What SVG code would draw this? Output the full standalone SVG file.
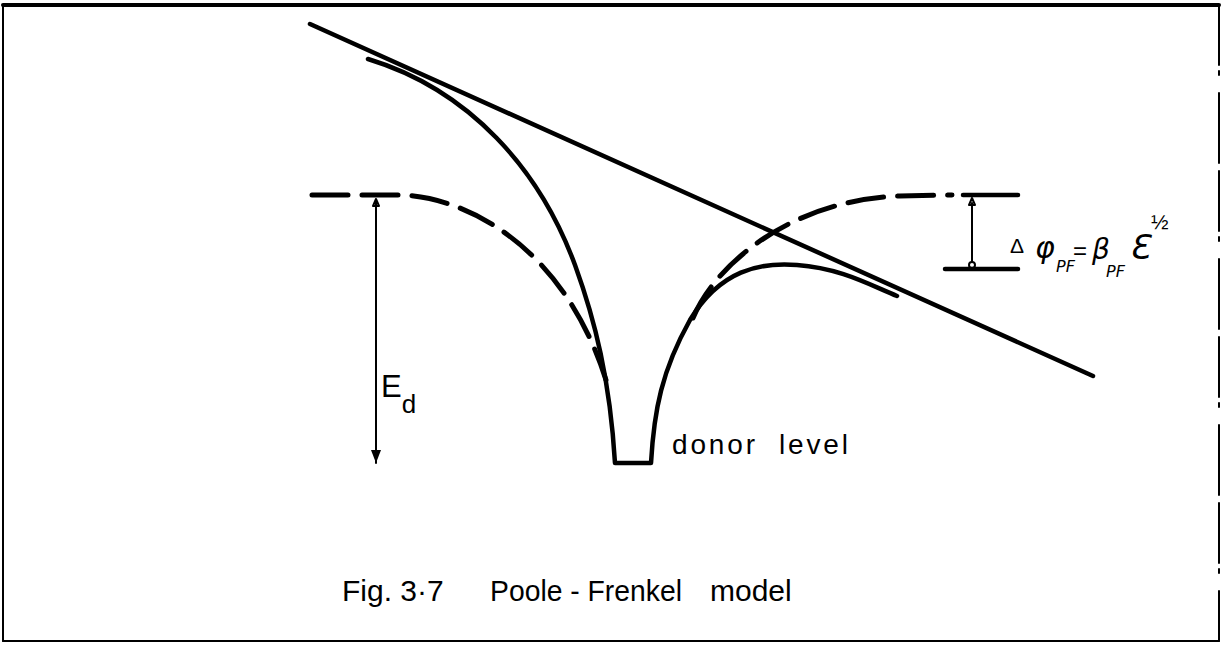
<svg xmlns="http://www.w3.org/2000/svg" width="1225" height="647" viewBox="0 0 1225 647">
<style>
.ln{fill:none;stroke:#000;stroke-linecap:round;stroke-linejoin:round}
.solid{stroke-width:4.5}
.dash{stroke-width:5;stroke-dasharray:36 14}
.thin{stroke-width:2}
.t{font-family:"Liberation Sans","DejaVu Sans",sans-serif;fill:#000}
.m{font-family:"DejaVu Sans","Noto Sans",sans-serif;fill:#000;font-style:italic}
</style>
<defs>
<marker id="arrDown" markerWidth="14" markerHeight="10" refX="13" refY="5" orient="auto" markerUnits="userSpaceOnUse" viewBox="0 0 14 10">
<path d="M0,0 L13,5 L0,10 Z" fill="#000"/>
</marker>
</defs>
<rect width="1225" height="647" fill="#fff"/>
<g id="frame" class="ln">
<line x1="3" y1="5" x2="1219" y2="5" stroke-width="4"/>
<line x1="3" y1="5" x2="3" y2="641" stroke-width="2"/>
<line x1="1219" y1="5" x2="1219" y2="641" stroke-width="2" stroke-dasharray="60 6 4 18 70 8"/>
<line x1="3" y1="641" x2="1219" y2="641" stroke-width="2"/>
</g>
<g id="connectors">
<line id="field-line" class="ln solid" x1="310" y1="24" x2="1093" y2="376"/>
<path id="coulomb-left" class="ln dash" d="M312,195 L400,195 C470,197 565,250 606,380"/>
<path id="coulomb-right" class="ln dash" d="M693,318 C715,265 790,200 900,196 L952,195"/>
<path id="pf-well" class="ln solid" d="M368,59 C470,90 540,170 575,265 C595,320 610,380 615,463 L651,463 C654,410 662,370 690,320 C720,270 760,262 797,265 C840,268 870,285 897,296"/>
<line id="ed-arrow" class="ln thin" x1="376" y1="201" x2="376" y2="463" marker-end="url(#arrDown)"/>
<path class="ln thin" d="M376,199 l-3,7 h6 z"/>
<line class="ln solid" x1="963" y1="195" x2="1018" y2="195" stroke-width="4"/>
<line class="ln solid" x1="945" y1="269" x2="1018" y2="269" stroke-width="4"/>
<line id="dphi-arrow" class="ln thin" x1="972" y1="203" x2="972" y2="262"/>
<path class="ln thin" d="M972,198 l-3,7 h6 z"/>
<circle class="ln thin" cx="972" cy="265" r="3"/>
</g>
<g id="label-ed">
<text class="t" x="381" y="397" font-size="31">E<tspan font-size="26" dy="16">d</tspan></text>
</g>
<g id="label-donor">
<text class="t" x="672" y="454" font-size="28" textLength="176" lengthAdjust="spacing" xml:space="preserve">donor  level</text>
</g>
<g id="label-dphi">
<text class="t" x="1010" y="253" font-size="21">Δ</text>
<text class="m" x="1035" y="258" font-size="30">φ</text>
<text class="m" x="1056" y="272" font-size="16">PF</text>
<text class="t" x="1073" y="259" font-size="24">=</text>
<text class="m" x="1092" y="259" font-size="28">β</text>
<text class="m" x="1106" y="277" font-size="16">PF</text>
<text class="m" x="1129" y="259" font-size="34">Ɛ</text>
<text class="t" x="1151" y="229" font-size="21">½</text>
</g>
<g id="caption">
<text class="t" x="342" y="601" font-size="30">Fig. 3·7</text>
<text class="t" x="490" y="601" font-size="30" textLength="192" lengthAdjust="spacingAndGlyphs">Poole - Frenkel</text>
<text class="t" x="710" y="601" font-size="30">model</text>
</g>
</svg>
